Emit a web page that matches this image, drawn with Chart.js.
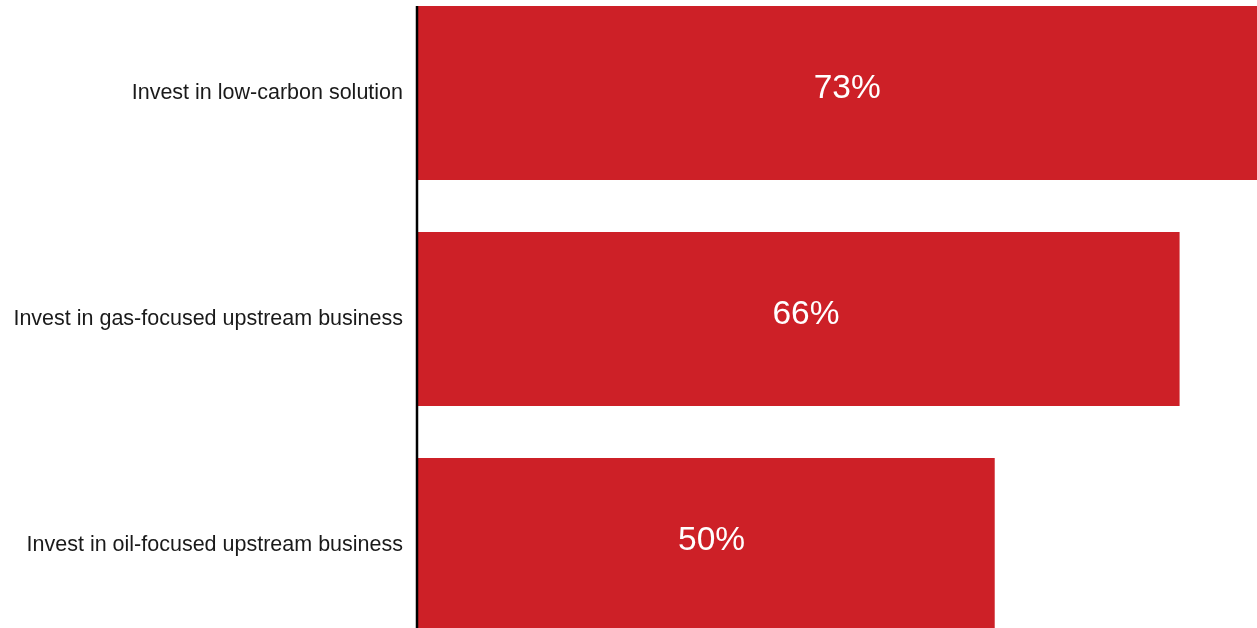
<!DOCTYPE html>
<html>
<head>
<meta charset="utf-8">
<script src="https://cdn.jsdelivr.net/npm/chart.js@4/dist/chart.umd.min.js"></script>
<style>
  html, body { margin: 0; padding: 0; background: #fff; overflow: hidden; }
  #wrap { position: absolute; left: 0; top: -20px; width: 1257px; height: 678px; }
</style>
</head>
<body>
<div id="wrap"><canvas id="chart" width="1257" height="678"></canvas></div>
<script>
const categories = [
  "Invest in low-carbon solution",
  "Invest in gas-focused upstream business",
  "Invest in oil-focused upstream business"
];
const shares = [73, 66, 50];
const barColor = "#CD2027";

// black baseline starting at the top of the first bar, then white percentages
const valueLabels = {
  id: "valueLabels",
  afterDatasetsDraw(chart) {
    const ctx = chart.ctx;
    const meta = chart.getDatasetMeta(0);
    const area = chart.chartArea;
    const first = meta.data[0];

    ctx.save();
    ctx.strokeStyle = "#000";
    ctx.lineWidth = 2.5;
    ctx.beginPath();
    ctx.moveTo(area.left, first.y - first.height / 2);
    ctx.lineTo(area.left, area.bottom);
    ctx.stroke();

    ctx.fillStyle = "#fff";
    ctx.font = "33.5px 'Liberation Sans', Arial, sans-serif";
    ctx.textAlign = "center";
    ctx.textBaseline = "middle";
    meta.data.forEach((bar, i) => {
      const cx = bar.base + (bar.x - bar.base) * 0.51;
      ctx.fillText(shares[i] + "%", cx, bar.y - 4);
    });
    ctx.restore();
  }
};

new Chart(document.getElementById("chart"), {
  type: "bar",
  data: {
    labels: categories,
    datasets: [{
      data: shares,
      backgroundColor: barColor,
      barPercentage: 0.77,
      categoryPercentage: 1
    }]
  },
  options: {
    indexAxis: "y",
    responsive: false,
    animation: false,
    layout: { padding: 0 },
    plugins: { legend: { display: false }, tooltip: { enabled: false } },
    scales: {
      x: { display: false, min: 0, max: 72.7 },
      y: {
        afterFit(scale) {
          scale.width = 417;
          scale.paddingTop = 0;
          scale.paddingBottom = 0;
        },
        grid: { display: false, drawTicks: false },
        border: { display: false },
        ticks: {
          padding: 14,
          color: "#1a1a1a",
          font: { family: "'Liberation Sans', Arial, sans-serif", size: 21.5 }
        }
      }
    }
  },
  plugins: [valueLabels]
});
</script>
</body>
</html>
